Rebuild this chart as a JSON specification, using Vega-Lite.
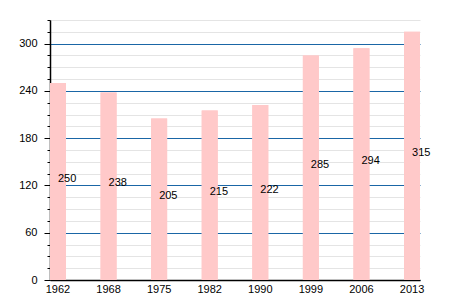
{
  "$schema": "https://vega.github.io/schema/vega-lite/v6.json",
  "width": 370,
  "height": 260,
  "autosize": "none",
  "padding": {"left": 50, "top": 20, "right": 30, "bottom": 20},
  "background": "white",
  "config": {
    "view": {"stroke": null},
    "font": "Liberation Sans",
    "axis": {"labelFont": "Liberation Sans", "labelFontSize": 11, "labelColor": "black", "domainColor": "black", "tickColor": "black"}
  },
  "data": {
    "values": [
      {"year": "1962", "value": 250},
      {"year": "1968", "value": 238},
      {"year": "1975", "value": 205},
      {"year": "1982", "value": 215},
      {"year": "1990", "value": 222},
      {"year": "1999", "value": 285},
      {"year": "2006", "value": 294},
      {"year": "2013", "value": 315}
    ]
  },
  "encoding": {
    "x": {
      "field": "year",
      "type": "ordinal",
      "scale": {"paddingInner": 0.684, "paddingOuter": 0},
      "axis": {"title": null, "labelAngle": 0, "ticks": false, "labelPadding": 3, "domainWidth": 1.5}
    }
  },
  "layer": [
    {
      "mark": {"type": "bar", "color": "#ffc9c9"},
      "encoding": {
        "y": {
          "field": "value",
          "type": "quantitative",
          "scale": {"domain": [0, 330], "nice": false},
          "axis": {
            "orient": "left",
            "title": null,
            "values": [15, 30, 45, 75, 90, 105, 135, 150, 165, 195, 210, 225, 255, 270, 285, 315, 330],
            "labels": false,
            "grid": true,
            "gridColor": "#e4e4e4",
            "gridWidth": 1,
            "tickSize": 3,
            "domain": false
          }
        }
      }
    },
    {
      "mark": {"type": "bar", "color": "#ffc9c9"},
      "encoding": {
        "y": {
          "field": "value",
          "type": "quantitative",
          "scale": {"domain": [0, 330], "nice": false},
          "axis": {
            "orient": "left",
            "title": null,
            "values": [0, 60, 120, 180, 240, 300],
            "grid": true,
            "gridColor": "#1a66a6",
            "gridWidth": 1,
            "tickSize": 6,
            "labelPadding": 7,
            "domainWidth": 1.5
          }
        }
      }
    },
    {
      "mark": {"type": "text", "align": "left", "baseline": "alphabetic", "fontSize": 11, "color": "black", "font": "Liberation Sans"},
      "encoding": {
        "y": {"field": "value", "type": "quantitative", "scale": {"domain": [0, 660], "nice": false}, "axis": null},
        "text": {"field": "value", "type": "quantitative"}
      }
    }
  ],
  "resolve": {"scale": {"y": "independent"}, "axis": {"y": "independent"}}
}
